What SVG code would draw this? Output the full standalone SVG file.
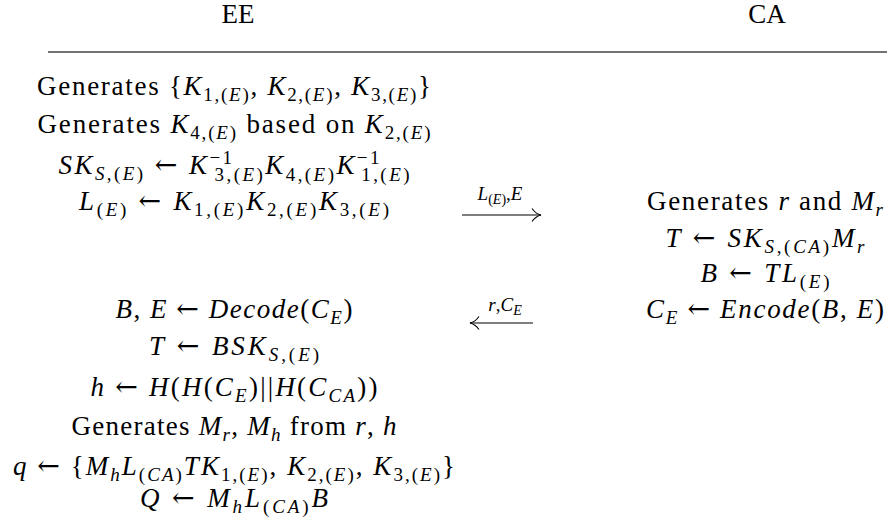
<svg xmlns="http://www.w3.org/2000/svg" width="887" height="521" viewBox="0 0 887 521">
<defs>
<style>
text{font-family:"Liberation Serif","Times New Roman",serif;font-size:27px;fill:#000;text-anchor:middle}
.i{font-style:italic}
.s{font-size:19px}
.ss{font-size:14px}
.lbl{font-size:19px}
.a{font-family:"DejaVu Serif",serif;font-style:normal}
.rule{stroke:#444;stroke-width:1.3}
.arr{stroke:#000;stroke-width:1.1;fill:none}
</style>
<marker id="head" markerUnits="userSpaceOnUse" markerWidth="12" markerHeight="16" viewBox="0 0 12 16" refX="11" refY="8" orient="auto"><path d="M2,1.5 C4.5,5 7.5,7.2 11,8 C7.5,8.8 4.5,11 2,14.5" fill="none" stroke="#000" stroke-width="1.1"/></marker>
</defs>
<rect width="887" height="521" fill="#fff"/>
<g id="header">
<text x="238" y="23">EE</text>
<text x="767" y="23">CA</text>
<line class="rule" x1="48" y1="52" x2="887" y2="52"/>
</g>
<g id="ee-step1"><text x="234" y="95" textLength="394">Generates {<tspan class="i">K</tspan><tspan class="s" dy="6">1,(<tspan class="i">E</tspan>)</tspan><tspan dy="-6">, </tspan><tspan class="i">K</tspan><tspan class="s" dy="6">2,(<tspan class="i">E</tspan>)</tspan><tspan dy="-6">, </tspan><tspan class="i">K</tspan><tspan class="s" dy="6">3,(<tspan class="i">E</tspan>)</tspan><tspan dy="-6">}</tspan></text></g>
<g id="ee-step2"><text x="234" y="133" textLength="393">Generates <tspan class="i">K</tspan><tspan class="s" dy="6">4,(<tspan class="i">E</tspan>)</tspan><tspan dy="-6"> based on </tspan><tspan class="i">K</tspan><tspan class="s" dy="6">2,(<tspan class="i">E</tspan>)</tspan></text></g>
<g id="ee-step3"><text x="234" y="174" textLength="351"><tspan class="i">SK</tspan><tspan class="s" dy="6"><tspan class="i">S</tspan>,(<tspan class="i">E</tspan>)</tspan><tspan dy="-6"> <tspan class="a">←</tspan> </tspan><tspan class="i">K</tspan><tspan class="s" dy="-10">−1</tspan><tspan class="s" dx="-20" dy="17">3,(<tspan class="i">E</tspan>)</tspan><tspan class="i" dy="-7">K</tspan><tspan class="s" dy="7">4,(<tspan class="i">E</tspan>)</tspan><tspan class="i" dy="-7">K</tspan><tspan class="s" dy="-10">−1</tspan><tspan class="s" dx="-20" dy="17">1,(<tspan class="i">E</tspan>)</tspan></text></g>
<g id="ee-step4"><text x="234" y="210" textLength="310"><tspan class="i">L</tspan><tspan class="s" dy="6">(<tspan class="i">E</tspan>)</tspan><tspan dy="-6"> <tspan class="a">←</tspan> </tspan><tspan class="i">K</tspan><tspan class="s" dy="6">1,(<tspan class="i">E</tspan>)</tspan><tspan class="i" dy="-6">K</tspan><tspan class="s" dy="6">2,(<tspan class="i">E</tspan>)</tspan><tspan class="i" dy="-6">K</tspan><tspan class="s" dy="6">3,(<tspan class="i">E</tspan>)</tspan></text></g>
<g id="ca-step1"><text x="765" y="210" textLength="236">Generates <tspan class="i">r</tspan> and <tspan class="i">M</tspan><tspan class="s i" dy="6">r</tspan></text></g>
<g id="ca-step2"><text x="765" y="247" textLength="199"><tspan class="i">T</tspan> <tspan class="a">←</tspan> <tspan class="i">SK</tspan><tspan class="s" dy="6"><tspan class="i">S</tspan>,(<tspan class="i">CA</tspan>)</tspan><tspan class="i" dy="-6">M</tspan><tspan class="s i" dy="6">r</tspan></text></g>
<g id="ca-step3"><text x="765" y="282" textLength="129"><tspan class="i">B</tspan> <tspan class="a">←</tspan> <tspan class="i">TL</tspan><tspan class="s" dy="6">(<tspan class="i">E</tspan>)</tspan></text></g>
<g id="ca-step4"><text x="765" y="318" textLength="238"><tspan class="i">C</tspan><tspan class="s i" dy="6">E</tspan><tspan dy="-6"> <tspan class="a">←</tspan> </tspan><tspan class="i">Encode</tspan>(<tspan class="i">B</tspan>, <tspan class="i">E</tspan>)</text></g>
<g id="ee-step5"><text x="234" y="318" textLength="237"><tspan class="i">B</tspan>, <tspan class="i">E</tspan> <tspan class="a">←</tspan> <tspan class="i">Decode</tspan>(<tspan class="i">C</tspan><tspan class="s i" dy="6">E</tspan><tspan dy="-6">)</tspan></text></g>
<g id="ee-step6"><text x="234" y="355" textLength="170"><tspan class="i">T</tspan> <tspan class="a">←</tspan> <tspan class="i">BSK</tspan><tspan class="s" dy="6"><tspan class="i">S</tspan>,(<tspan class="i">E</tspan>)</tspan></text></g>
<g id="ee-step7"><text x="234" y="396" textLength="287"><tspan class="i">h</tspan> <tspan class="a">←</tspan> <tspan class="i">H</tspan>(<tspan class="i">H</tspan>(<tspan class="i">C</tspan><tspan class="s i" dy="6">E</tspan><tspan dy="-6">)||</tspan><tspan class="i">H</tspan>(<tspan class="i">C</tspan><tspan class="s i" dy="6">CA</tspan><tspan dy="-6">))</tspan></text></g>
<g id="ee-step8"><text x="234" y="435" textLength="325">Generates <tspan class="i">M</tspan><tspan class="s i" dy="6">r</tspan><tspan dy="-6">, </tspan><tspan class="i">M</tspan><tspan class="s i" dy="6">h</tspan><tspan dy="-6"> from </tspan><tspan class="i">r</tspan>, <tspan class="i">h</tspan></text></g>
<g id="ee-step9"><text x="234" y="475" textLength="442"><tspan class="i">q</tspan> <tspan class="a">←</tspan> {<tspan class="i">M</tspan><tspan class="s i" dy="6">h</tspan><tspan class="i" dy="-6">L</tspan><tspan class="s" dy="6">(<tspan class="i">CA</tspan>)</tspan><tspan class="i" dy="-6">TK</tspan><tspan class="s" dy="6">1,(<tspan class="i">E</tspan>)</tspan><tspan dy="-6">, </tspan><tspan class="i">K</tspan><tspan class="s" dy="6">2,(<tspan class="i">E</tspan>)</tspan><tspan dy="-6">, </tspan><tspan class="i">K</tspan><tspan class="s" dy="6">3,(<tspan class="i">E</tspan>)</tspan><tspan dy="-6">}</tspan></text></g>
<g id="ee-step10"><text x="234" y="507" textLength="188"><tspan class="i">Q</tspan> <tspan class="a">←</tspan> <tspan class="i">M</tspan><tspan class="s i" dy="6">h</tspan><tspan class="i" dy="-6">L</tspan><tspan class="s" dy="6">(<tspan class="i">CA</tspan>)</tspan><tspan class="i" dy="-6">B</tspan></text></g>
<g id="connectors">
<line class="arr" x1="462" y1="215" x2="541" y2="215" marker-end="url(#head)"/>
<text class="lbl" x="500" y="200"><tspan class="i">L</tspan><tspan class="ss" dy="4">(<tspan class="i">E</tspan>)</tspan><tspan dy="-4">,</tspan><tspan class="i">E</tspan></text>
<line class="arr" x1="533" y1="323" x2="470" y2="323" marker-end="url(#head)"/>
<text class="lbl" x="505" y="311"><tspan class="i">r</tspan>,<tspan class="i">C</tspan><tspan class="ss i" dy="4">E</tspan></text>
</g>
</svg>
